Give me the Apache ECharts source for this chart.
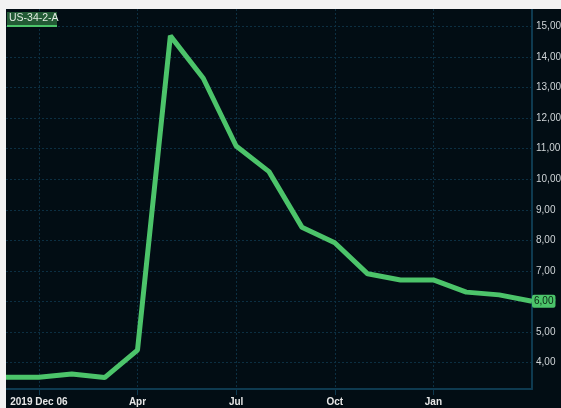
<!DOCTYPE html>
<html>
<head>
<meta charset="utf-8">
<script src="https://cdn.jsdelivr.net/npm/echarts@6/dist/echarts.min.js"></script>
<style>
  html, body { margin: 0; padding: 0; background: #f2f2f2; width: 561px; height: 408px; overflow: hidden; }
  #chart { position: absolute; left: 6px; top: 9px; width: 555px; height: 399px; background: #020d14; }
</style>
</head>
<body>
<div id="chart"></div>
<script>
// ---- data ----
var seriesName = 'US-34-2-A';
var categories = ['c0','c1','c2','c3','c4','c5','c6','c7','c8','c9','c10','c11','c12','c13','c14','c15','c16'];
var xTickLabels = ['', '2019 Dec 06', '', '', 'Apr', '', '', 'Jul', '', '', 'Oct', '', '', 'Jan', '', '', ''];
var values = [3.51, 3.51, 3.62, 3.50, 4.40, 14.70, 13.31, 11.09, 10.25, 8.43, 7.92, 6.90, 6.70, 6.70, 6.30, 6.21, 6.00];
var yTickValues = [4, 5, 6, 7, 8, 9, 10, 11, 12, 13, 14, 15];

function fmt(v) { return Number(v).toFixed(2).replace('.', ','); }
var font = "'Liberation Sans', Arial, sans-serif";
var gridColor = '#0c2f42';
var axisColor = '#0e3a50';
var green = '#4cc46a';

var chart = echarts.init(document.getElementById('chart'), null, { renderer: 'canvas' });
chart.setOption({
  backgroundColor: '#020d14',
  animation: false,
  grid: { left: 0, right: 29, top: 0, bottom: 19, containLabel: false, outerBoundsMode: 'none' },
  xAxis: {
    type: 'category',
    data: categories,
    boundaryGap: false,
    axisLine: { show: true, lineStyle: { color: axisColor, width: 2 } },
    axisTick: { show: true, length: 6, inside: false, interval: function (i) { return xTickLabels[i] !== ''; }, lineStyle: { color: axisColor, width: 1 } },
    splitLine: { show: true, interval: function (i) { return xTickLabels[i] !== ''; }, lineStyle: { color: gridColor, type: [2, 2], width: 1 } },
    axisLabel: {
      interval: 0,
      margin: 8,
      hideOverlap: false,
      color: '#e6e6e6',
      fontFamily: font,
      fontSize: 10,
      fontWeight: 'bold',
      formatter: function (v, i) { return xTickLabels[i]; }
    }
  },
  yAxis: {
    type: 'value',
    position: 'right',
    min: 3.125,
    max: 15.58,
    axisLine: { show: true, lineStyle: { color: axisColor, width: 2 } },
    axisTick: { show: false, customValues: yTickValues },
    splitLine: { show: true, lineStyle: { color: gridColor, type: [2, 2], width: 1 } },
    axisLabel: {
      customValues: yTickValues,
      margin: 4,
      color: '#cfd4d7',
      fontFamily: font,
      fontSize: 10,
      formatter: function (v) { return fmt(v); }
    }
  },
  graphic: [
    { type: 'rect', left: 1, top: 3, shape: { width: 50, height: 15 }, style: { fill: '#235a35' }, z: 100 },
    { type: 'rect', left: 1, top: 16, shape: { width: 50, height: 2 }, style: { fill: green }, z: 101 },
    { type: 'text', left: 3, top: 4, style: { text: seriesName, fill: '#e2ece2', font: '10.5px ' + font }, z: 102 }
  ],
  series: [{
    name: seriesName,
    type: 'line',
    data: values,
    symbol: 'none',
    lineStyle: { color: green, width: 5 },
    endLabel: {
      show: true,
      formatter: function (p) { return fmt(p.value); },
      backgroundColor: green,
      color: '#0a2412',
      fontFamily: font,
      fontSize: 10,
      padding: [2, 2, 1, 2],
      borderRadius: 2,
      distance: 0
    }
  }]
});
</script>
</body>
</html>
